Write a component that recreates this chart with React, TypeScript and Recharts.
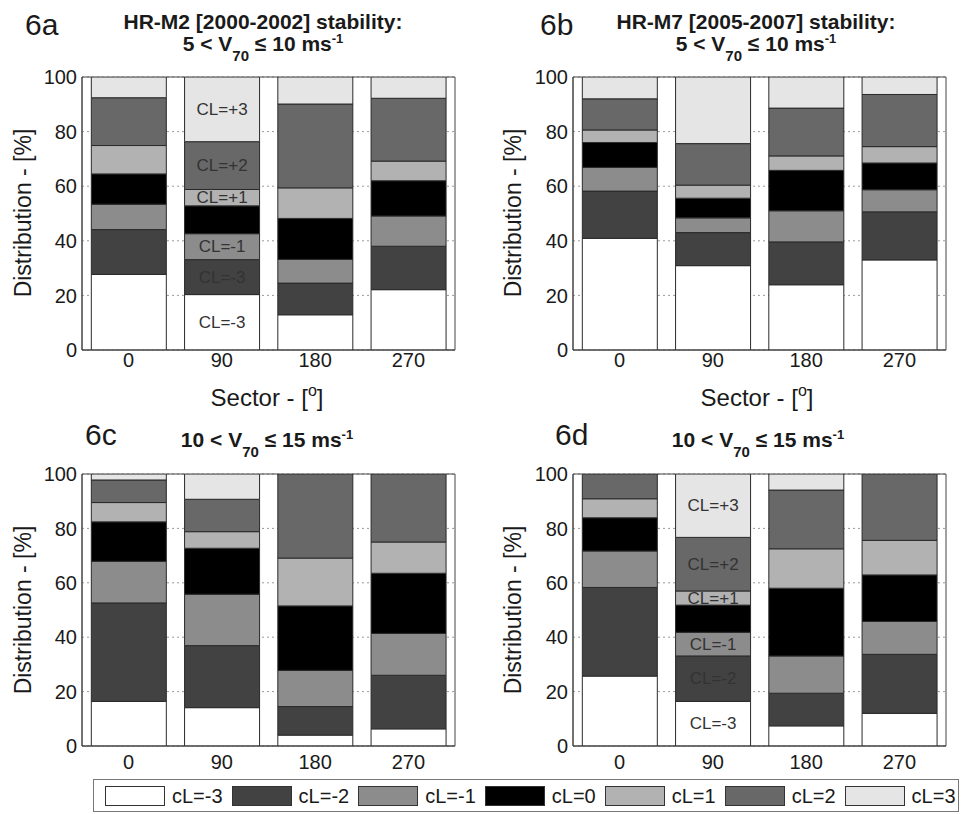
import { Bar, BarChart, CartesianGrid, LabelList, ReferenceArea, XAxis, YAxis } from 'recharts';

const sectors = ['0', '90', '180', '270'];
const classKeys = ['m3', 'm2', 'm1', 'z', 'p1', 'p2', 'p3'];
const classNames = ['cL=-3', 'cL=-2', 'cL=-1', 'cL=0', 'cL=1', 'cL=2', 'cL=3'];
const classColors = ['#ffffff', '#424242', '#8c8c8c', '#000000', '#b2b2b2', '#686868', '#e5e5e5'];
const yTicks = [0, 20, 40, 60, 80, 100];

// rows = sectors 0/90/180/270, columns = cL=-3 .. cL=3 (%)
const hrM2Low = [
  [27.7, 16.4, 9.3, 11.1, 10.4, 17.5, 7.6],
  [20.3, 12.8, 9.5, 10.2, 6.0, 17.5, 23.7],
  [12.9, 11.6, 8.7, 15.0, 11.2, 30.7, 9.9],
  [22.1, 15.9, 11.1, 12.9, 7.2, 23.0, 7.8],
];
const hrM7Low = [
  [40.9, 17.3, 8.7, 9.1, 4.6, 11.4, 8.0],
  [30.9, 12.1, 5.4, 7.2, 4.8, 15.2, 24.4],
  [23.9, 15.7, 11.4, 14.8, 5.3, 17.5, 11.4],
  [33.0, 17.6, 8.1, 9.8, 6.0, 19.1, 6.4],
];
const hrM2High = [
  [16.4, 36.2, 15.3, 14.5, 7.1, 8.3, 2.2],
  [14.1, 22.8, 18.9, 16.9, 6.1, 11.9, 9.3],
  [4.0, 10.5, 13.3, 23.7, 17.6, 30.9, 0],
  [6.3, 19.7, 15.4, 22.1, 11.5, 25.0, 0],
];
const hrM7High = [
  [25.7, 32.6, 13.4, 12.2, 7.0, 9.1, 0],
  [16.4, 16.7, 8.7, 10.0, 5.2, 19.7, 23.3],
  [7.4, 12.0, 13.7, 24.9, 14.5, 21.6, 5.9],
  [12.0, 21.7, 12.1, 17.1, 12.7, 24.4, 0],
];

// annotations written inside the 90 sector bar
const noteSector = '90';
const notes6a = ['CL=-3', 'CL=-3', 'CL=-1', '', 'CL=+1', 'CL=+2', 'CL=+3'];
const notes6d = ['CL=-3', 'CL=-2', 'CL=-1', '', 'CL=+1', 'CL=+2', 'CL=+3'];

const font = '"Liberation Sans", Arial, sans-serif';
const ink = '#1a1a1a';

type PanelProps = {
  rows: number[][];
  notes?: string[];
  left: number;
  top: number;
  plotTop: number;
  plotLeft: number;
  plotH: number;
  tickGap: number;
};

const Panel = ({ rows, notes, left, top, plotTop, plotLeft, plotH, tickGap }: PanelProps) => {
  const data = sectors.map((s, i) => {
    const row: Record<string, string | number> = { sector: s };
    classKeys.forEach((k, j) => {
      row[k] = rows[i][j];
      row[`note_${k}`] = notes && s === noteSector ? notes[j] : '';
    });
    return row;
  });
  const tick = { fontSize: 20, fill: ink, fontFamily: font };
  return (
    <div style={{ position: 'absolute', left, top }}>
      <BarChart
        width={480}
        height={plotTop + plotH + 30}
        data={data}
        margin={{ top: plotTop, right: 480 - plotLeft - 373, bottom: 0, left: 0 }}
        barCategoryGap="10%"
      >
        <CartesianGrid vertical={false} strokeDasharray="2 3" stroke="#9a9a9a" />
        <XAxis dataKey="sector" height={30} tickSize={0} tickMargin={tickGap} axisLine={{ stroke: '#444' }} tick={tick} />
        <YAxis
          width={plotLeft}
          domain={[0, 100]}
          allowDataOverflow
          ticks={yTicks}
          tickSize={0}
          tickMargin={5}
          axisLine={{ stroke: '#444' }}
          tick={tick}
        />
        <ReferenceArea y1={0} y2={100} fill="none" stroke="#444" />
        {classKeys.map((k, j) => (
          <Bar key={k} dataKey={k} stackId="s" fill={classColors[j]} stroke="#2a2a2a" strokeWidth={1} isAnimationActive={false}>
            {notes && notes[j] ? (
              <LabelList
                dataKey={`note_${k}`}
                content={(p: any) =>
                  p.value ? (
                    <text
                      x={Number(p.x) + Number(p.width) / 2}
                      y={Number(p.y) + Number(p.height) / 2}
                      textAnchor="middle"
                      dominantBaseline="central"
                      fontSize={17}
                      fontFamily={font}
                      fill="#333"
                    >
                      {p.value}
                    </text>
                  ) : null
                }
              />
            ) : null}
          </Bar>
        ))}
      </BarChart>
    </div>
  );
};

const Title = ({ x, y, line1, lo, hi }: { x: number; y: number; line1?: string; lo: string; hi: string }) => (
  <g fontFamily={font} fontWeight="bold" fontSize={21} fill={ink} textAnchor="middle">
    {line1 ? (
      <text x={x} y={y - 22}>
        {line1}
      </text>
    ) : null}
    <text x={x} y={y}>
      {lo} &lt; V<tspan fontSize={15} dy={10}>70</tspan>
      <tspan dy={-10}> ≤ {hi} ms</tspan>
      <tspan fontSize={13} dy={-8}>-1</tspan>
    </text>
  </g>
);

const YLabel = ({ x, y }: { x: number; y: number }) => (
  <text x={x} y={y} transform={`rotate(-90 ${x} ${y})`} textAnchor="middle" dominantBaseline="central" fontSize={23} fontFamily={font} fill={ink}>
    Distribution - [%]
  </text>
);

const XLabel = ({ x, y }: { x: number; y: number }) => (
  <text x={x} y={y} textAnchor="middle" fontSize={24} fontFamily={font} fill={ink}>
    Sector - [<tspan fontSize={16} dy={-10}>o</tspan>
    <tspan dy={10}>]</tspan>
  </text>
);

export default function App() {
  return (
    <div style={{ position: 'absolute', left: 0, top: 0, width: 962, height: 814, background: '#fff', fontFamily: font }}>
      <Panel rows={hrM2Low} notes={notes6a} left={0} top={0} plotTop={77} plotLeft={82} plotH={273} tickGap={3} />
      <Panel rows={hrM7Low} left={480} top={0} plotTop={77} plotLeft={93} plotH={273} tickGap={3} />
      <Panel rows={hrM2High} left={0} top={400} plotTop={74} plotLeft={82} plotH={272} tickGap={9} />
      <Panel rows={hrM7High} notes={notes6d} left={480} top={400} plotTop={74} plotLeft={93} plotH={272} tickGap={9} />

      <svg width={962} height={814} style={{ position: 'absolute', left: 0, top: 0, pointerEvents: 'none' }}>
        <g fontFamily={font} fontSize={30} fill={ink}>
          <text x={25} y={35}>6a</text>
          <text x={540} y={35}>6b</text>
          <text x={85} y={445}>6c</text>
          <text x={555} y={445}>6d</text>
        </g>
        <Title x={263} y={51} line1="HR-M2 [2000-2002] stability:" lo="5" hi="10" />
        <Title x={756} y={51} line1="HR-M7 [2005-2007] stability:" lo="5" hi="10" />
        <Title x={267} y={447} lo="10" hi="15" />
        <Title x={758} y={447} lo="10" hi="15" />
        <YLabel x={23} y={213} />
        <YLabel x={513} y={213} />
        <YLabel x={23} y={610} />
        <YLabel x={513} y={610} />
        <XLabel x={267} y={406} />
        <XLabel x={757} y={406} />
      </svg>

      <div
        style={{
          position: 'absolute',
          left: 93,
          top: 779,
          width: 866,
          height: 33,
          boxSizing: 'border-box',
          border: '1px solid #777',
          display: 'flex',
          alignItems: 'center',
          paddingLeft: 11,
        }}
      >
        {classNames.map((name, j) => (
          <div key={name} style={{ display: 'flex', alignItems: 'center', marginRight: 9 }}>
            <div style={{ width: 60, height: 20, boxSizing: 'border-box', border: '1px solid #333', background: classColors[j] }} />
            <span style={{ marginLeft: 7, fontSize: 20, color: ink, lineHeight: '20px' }}>{name}</span>
          </div>
        ))}
      </div>
    </div>
  );
}
